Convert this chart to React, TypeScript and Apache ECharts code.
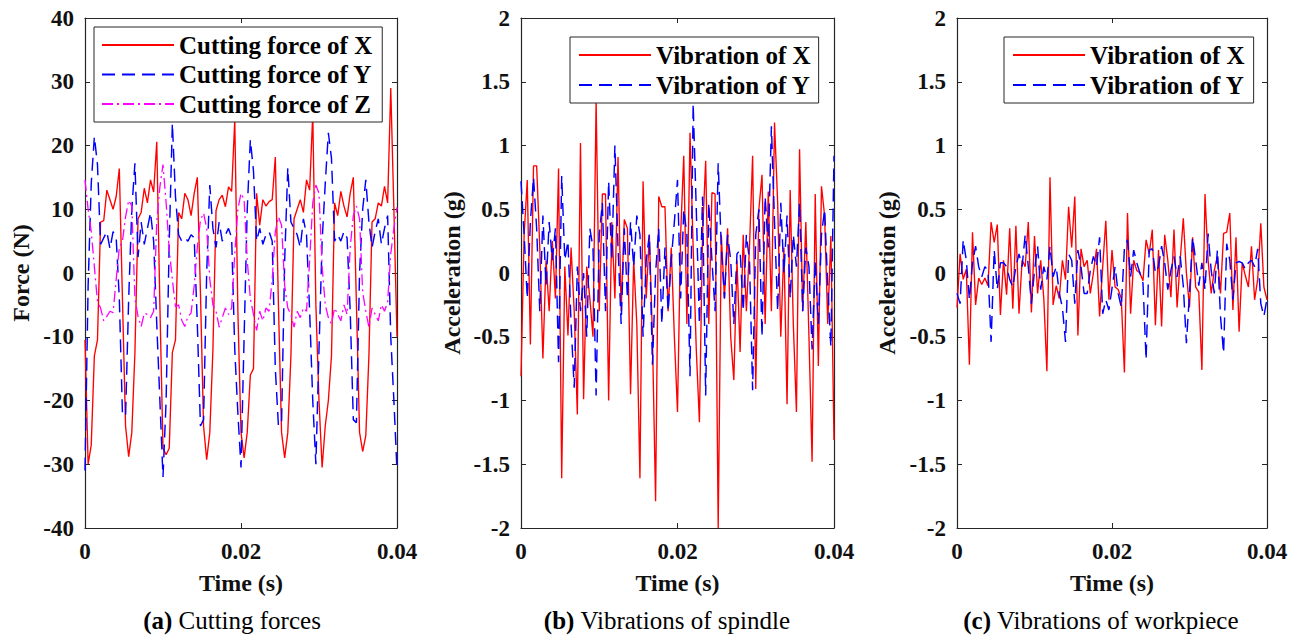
import React, { useEffect, useRef } from "react";
import * as echarts from "echarts";

// Sampling interval of the recorded signals (s)
const SAMPLE_DT = 0.0004;
const X_TICKS = { min: 0, max: 0.04, interval: 0.02 };

// (a) Cutting forces (N)
const FORCE_X = [
  -10.5, -30, -27, -13, -10.5, 8, 8.2, 13, 11.5, 10,
  12, 16.4, -4, -24, -28.8, -25, -12.5, 8.5, 9.5, 13.3,
  11, 14.6, 12.7, 20.6, -5, -27.5, -28.5, -27.5, -12.5, -10.5,
  9.5, 8.5, 12.5, 11.5, 9, 12.5, 15, -3, -24, -29.3,
  -25, -12, 9.8, 11.5, 12.2, 10.4, 13.5, 12.8, 24, -6,
  -25, -29, -25, -16, -15, 12.5, 7.5, 11.5, 10.5, 11.2,
  11.5, 18.2, -5, -25, -29, -25, -13, 8.5, 10, 11.5,
  9.5, 14.6, 13, 25, -5, -20, -30.5, -24, -20, -13,
  11, 9, 12.8, 10.5, 8.8, 12.5, 15, -5, -25, -28,
  -25.5, -13, 8, 8.5, 11, 10.5, 13.6, 11, 29, 10,
  -10,
];
const FORCE_Y = [
  -31, -2, 14, 21.4, 17, 4.5, 5.5, 6.5, 3.8, 6.5,
  5.5, -4, -22, -22.5, -4, 10, 17.2, 2.5, 8, 4.5,
  7, 9.5, 5, -8, -20, -32, -20, 5, 23.5, 12,
  6, 5, 5.5, 5, 6, 5.5, -8, -24, -23, 0,
  13.8, 7, 4, 8, 5, 6, 7, 5.5, -12, -22,
  -30.5, -10, 10, 20.9, 16, 5, 7, 4.5, 6, 6.5,
  5, -15, -24, -23.5, 2, 16.5, 8, 7, 6, 4,
  8.5, 6, -6, -20, -30, -12, 5, 14, 22, 18,
  5, 6, 5, 6.5, 5.5, -6, -23, -23.5, 0, 10,
  14.6, 8, 4, 6.5, 8.5, 4.5, 7, 9, -10, -20,
  -31,
];
const FORCE_Z = [
  14.6, 10, 6.5, 1, -4.5, -5.5, -7.5, -6.8, -6, -6.2,
  -1, 4, 5, 8.8, 11.4, 10.5, -4, -6.8, -8.4, -6.3,
  -6.5, -7, -6, 8, 13.5, 17, 11, 3.6, -1, -5.3,
  -5, -7.4, -8.4, -6.8, -6.3, -2, 4, 8.3, 9.4, 7,
  -1, -5, -6, -8.5, -7, -5.5, -6.5, -5.5, 3, 10,
  12.5, 11.5, 2, -4, -6.5, -9, -6, -7.5, -5.5, -6,
  -1, 6.5, 8.8, 7.5, -2, -5.5, -6.5, -8.5, -6, -7,
  -5.5, -6, 2, 11, 13.8, 12.5, 1, -5, -7, -8,
  -5.5, -6.5, -7.5, -5, -6.5, 4, 9, 10.5, 8.5, -3,
  -6, -8.5, -5.5, -6.5, -7.5, -5, -6, -4.5, 3, 7,
  10.3,
];

// (b) Vibrations of spindle (g)
const SPINDLE_X = [
  -0.81, 0.3, 0.73, -0.56, 0.84, 0.84, 0.2, -0.67, 0.1, -0.3,
  0.25, -0.2, 0.82, -1.61, 0.05, -0.49, 0.2, -0.3, -1.11, 1.02,
  -0.99, 0.05, -0.2, -0.5, 1.35, -0.3, 0.62, 0.62, -1.0, 0.4,
  -0.2, 0.91, -0.3, 0.42, 0.35, -0.95, 0.1, -0.4, -1.61, 0.72,
  -0.2, 0.3, -0.5, -1.79, 0.6, 0.52, 0.52, -0.3, 0.2, -0.5,
  -1.09, 0.3, 0.92, -0.4, 1.1, 0.2, -0.6, -1.17, 0.3, 0.88,
  -0.4, 0.63, 0.62, -2.0, 0.3, -0.2, 0.35, -0.5, -0.84, 0.1,
  -0.62, 0.3, -0.3, 0.2, 0.92, -0.91, 0.5, 0.77, -0.4, 0.64,
  -0.3, 1.18, 0.55, -0.5, 0.2, -1.03, 0.65, -0.4, -1.09, 0.97,
  -0.3, 0.4, -0.5, -1.48, 0.62, -0.73, 0.68, 0.45, -0.4, 0.29,
  -1.31,
];
const SPINDLE_Y = [
  0.72, 0.3, -0.2, 0.4, 0.75, 0.35, -0.3, 0.45, -0.1, 0.4,
  0.1, 0.35, -0.7, 0.76, 0.1, 0.25, -0.4, -0.9, 0.05, -0.3,
  0.0, -0.5, 0.35, 0.2, -0.96, 0.3, 0.55, -0.3, 0.72, 0.1,
  1.0, 0.2, -0.4, 0.35, -0.2, 0.4, 0.05, 0.45, 0.3, -0.5,
  0.1, 0.3, -0.72, 0.0, 0.35, -0.4, 0.2, -0.3, 0.1, 0.4,
  0.73, -0.2, 0.5, 0.3, -0.81, 1.33, 0.5, -0.4, 0.6, -0.96,
  0.55, 0.1, -0.3, 0.86, 0.2, -0.2, 0.3, 0.1, -0.4, 0.15,
  0.18, -0.3, 0.3, 0.1, -0.92, 0.3, 0.5, -0.5, 0.6, 0.2,
  1.15, 0.4, -0.3, 0.55, 0.0, 0.45, -0.2, 0.3, 0.05, 0.55,
  -0.3, 0.2, 0.05, -0.6, 0.1, -0.4, 0.3, 0.5, -0.1, -0.58,
  0.92,
];

// (c) Vibrations of workpiece (g)
const WORKPIECE_X = [
  -0.27, 0.15, -0.05, 0.03, -0.72, 0.32, -0.25, -0.04, -0.09, -0.04,
  -0.1, 0.4, 0.24, 0.38, -0.33, 0.1, -0.17, 0.35, -0.28, 0.37,
  -0.32, 0.1, 0.05, 0.4, -0.31, 0.29, -0.16, 0.1, -0.2, -0.77,
  0.75, -0.25, -0.1, -0.2, 0.1, -0.05, 0.52, 0.2, 0.6, -0.49,
  0.19, 0.05, 0.1, -0.16, 0.0, 0.19, -0.34, 0.05, 0.41, -0.21,
  0.18, -0.11, -0.13, -0.2, -0.78, 0.47, -0.32, 0.1, 0.02, 0.0,
  -0.06, 0.26, 0.15, 0.34, -0.41, 0.18, -0.42, 0.3, 0.1, -0.19,
  0.34, -0.27, 0.1, 0.43, 0.0, -0.27, 0.28, -0.11, -0.15, -0.76,
  0.62, 0.1, -0.16, 0.02, 0.13, -0.16, 0.31, 0.32, 0.47, -0.29,
  0.28, -0.46, 0.08, -0.02, -0.11, 0.21, -0.21, -0.05, 0.39, -0.11,
  -0.21,
];
const WORKPIECE_Y = [
  -0.16, -0.24, 0.26, 0.1, -0.21, 0.08, 0.21, 0.05, -0.03, 0.05,
  0.02, -0.54, 0.18, -0.13, 0.08, 0.08, 0.05, -0.05, -0.11, 0.05,
  0.15, 0.05, 0.3, 0.05, -0.24, 0.02, 0.21, -0.13, 0.05, -0.05,
  0.21, -0.03, 0.05, -0.16, -0.27, -0.54, 0.15, 0.1, -0.24, 0.18,
  0.05, -0.16, -0.16, 0.02, 0.13, 0.05, 0.28, -0.32, -0.21, -0.29,
  -0.12, 0.05, -0.16, -0.27, 0.19, 0.26, -0.03, 0.18, 0.08, 0.0,
  -0.08, -0.68, 0.18, 0.19, 0.0, 0.05, 0.21, 0.08, -0.13, 0.02,
  0.13, -0.03, 0.13, -0.1, -0.55, -0.16, 0.28, 0.1, -0.1, 0.08,
  -0.13, 0.31, 0.02, -0.16, 0.18, -0.34, -0.63, 0.23, 0.1, -0.21,
  0.08, 0.09, 0.08, 0.03, 0.08, 0.1, 0.05, 0.19, -0.24, -0.34,
  -0.2,
];

const PANEL_TITLES = [
  { tag: "(a)", text: " Cutting forces" },
  { tag: "(b)", text: " Vibrations of spindle" },
  { tag: "(c)", text: " Vibrations of workpiece" },
];
const Y_NAMES = ["Force (N)", "Acceleration (g)", "Acceleration (g)"];
const X_NAME = "Time (s)";

const FONT = '"Liberation Serif", "Times New Roman", serif';
const AXIS_COLOR = "#262626";
const TEXT_COLOR = "#111";
const TICK_FS = 23;
const NAME_FS = 24;
const LEGEND_FS = 25;
const TITLE_FS = 25;

const GRIDS = [
  { left: 85, top: 18, width: 312, height: 510 },
  { left: 521, top: 18, width: 313, height: 510 },
  { left: 957, top: 18, width: 310, height: 510 },
];
const Y_RANGES = [
  { min: -40, max: 40, interval: 10 },
  { min: -2, max: 2, interval: 0.5 },
  { min: -2, max: 2, interval: 0.5 },
];
const Y_NAME_GAPS = [52, 57, 58];
const TITLE_POS = [
  { x: 232, y: 620 },
  { x: 667, y: 620 },
  { x: 1101, y: 620 },
];

const toPairs = (vals: number[]) => vals.map((v, i) => [i * SAMPLE_DT, v]);

const RED = { color: "#ff0000", width: 1.35, type: "solid" as any };
const BLUE = { color: "#0000ff", width: 1.45, type: [13, 7] as any };
const MAGENTA = { color: "#ff00ff", width: 1.3, type: [11, 4, 2, 4] as any };

export default function App() {
  const ref = useRef<HTMLDivElement>(null);

  useEffect(() => {
    if (!ref.current) return;
    const chart = echarts.init(ref.current, undefined, { renderer: "svg" });

    const xAxis: any[] = [];
    const yAxis: any[] = [];
    GRIDS.forEach((_, k) => {
      const common = {
        gridIndex: k,
        type: "value",
        splitLine: { show: false },
        axisLine: { show: true, onZero: false, lineStyle: { color: AXIS_COLOR, width: 1.2 } },
        axisTick: { show: true, inside: true, length: 5, lineStyle: { color: AXIS_COLOR } },
      };
      xAxis.push({
        ...common,
        position: "bottom",
        ...X_TICKS,
        name: X_NAME,
        nameLocation: "middle",
        nameGap: 43,
        nameTextStyle: { fontFamily: FONT, fontWeight: "bold", fontSize: NAME_FS, color: TEXT_COLOR },
        axisLabel: { margin: 12, fontFamily: FONT, fontWeight: "bold", fontSize: TICK_FS, color: TEXT_COLOR },
      });
      xAxis.push({
        ...common,
        position: "top",
        ...X_TICKS,
        axisLabel: { show: false },
      });
      yAxis.push({
        ...common,
        position: "left",
        ...Y_RANGES[k],
        name: Y_NAMES[k],
        nameLocation: "middle",
        nameGap: Y_NAME_GAPS[k],
        nameTextStyle: { fontFamily: FONT, fontWeight: "bold", fontSize: NAME_FS, color: TEXT_COLOR },
        axisLabel: { margin: 11, fontFamily: FONT, fontWeight: "bold", fontSize: TICK_FS, color: TEXT_COLOR },
      });
      yAxis.push({
        ...common,
        position: "right",
        ...Y_RANGES[k],
        axisLabel: { show: false },
      });
    });

    const mk = (name: string, data: number[], k: number, ls: any) => ({
      name,
      type: "line",
      xAxisIndex: 2 * k,
      yAxisIndex: 2 * k,
      data: toPairs(data),
      symbol: "none",
      lineStyle: ls,
      itemStyle: { color: ls.color },
      clip: true,
    });

    const series = [
      mk("Cutting force of X", FORCE_X, 0, RED),
      mk("Cutting force of Y", FORCE_Y, 0, BLUE),
      mk("Cutting force of Z", FORCE_Z, 0, MAGENTA),
      mk("Vibration of X", SPINDLE_X, 1, RED),
      mk("Vibration of Y", SPINDLE_Y, 1, BLUE),
      mk("Vibration of X", WORKPIECE_X, 2, RED),
      mk("Vibration of Y", WORKPIECE_Y, 2, BLUE),
    ];

    const legendCommon = {
      orient: "vertical",
      selectedMode: false,
      itemWidth: 72,
      itemHeight: 14,
      itemGap: 4.5,
      backgroundColor: "#fff",
      borderColor: AXIS_COLOR,
      borderWidth: 1,
      borderRadius: 0,
      itemStyle: { opacity: 0 },
      textStyle: { fontFamily: FONT, fontWeight: "bold", fontSize: LEGEND_FS, color: "#000" },
    };
    const legend = [
      {
        ...legendCommon,
        left: 94,
        top: 27,
        padding: [5.5, 10, 5.5, 7],
        data: ["Cutting force of X", "Cutting force of Y", "Cutting force of Z"],
      },
      {
        ...legendCommon,
        left: 570,
        top: 37,
        itemGap: 5,
        padding: [5.5, 8, 5.5, 8],
        data: ["Vibration of X", "Vibration of Y"],
      },
      {
        ...legendCommon,
        left: 1004,
        top: 37,
        itemGap: 5,
        padding: [5.5, 9, 5.5, 8],
        data: ["Vibration of X", "Vibration of Y"],
      },
    ];

    const graphic = PANEL_TITLES.map((t, k) => ({
      type: "text",
      x: TITLE_POS[k].x,
      y: TITLE_POS[k].y,
      style: {
        text: `{b|${t.tag}}{n|${t.text}}`,
        align: "center",
        verticalAlign: "middle",
        rich: {
          b: { fontFamily: FONT, fontWeight: "bold", fontSize: TITLE_FS, fill: "#000" },
          n: { fontFamily: FONT, fontWeight: "normal", fontSize: TITLE_FS, fill: "#000" },
        },
      },
    }));

    chart.setOption({
      animation: false,
      backgroundColor: "#fff",
      grid: GRIDS,
      xAxis,
      yAxis,
      legend,
      series,
      graphic,
    });

    return () => chart.dispose();
  }, []);

  return (
    <div
      ref={ref}
      style={{ position: "fixed", left: 0, top: 0, width: 1299, height: 636 }}
    />
  );
}
